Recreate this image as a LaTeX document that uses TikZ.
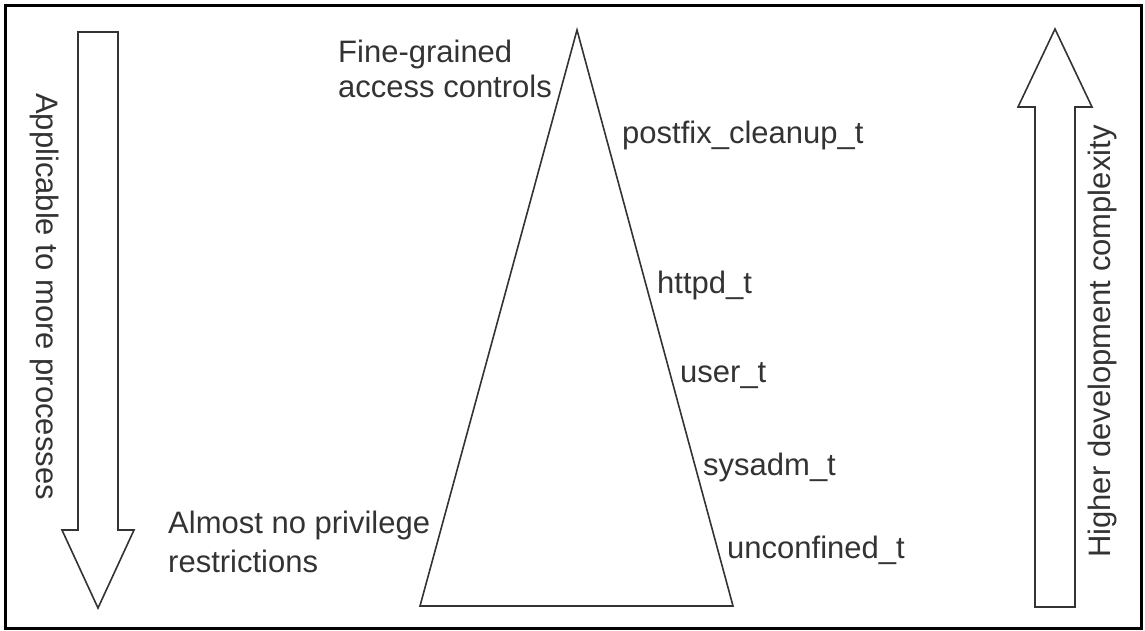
\documentclass[tikz,border=0pt]{standalone}
\usepackage{fontspec}
\setmainfont{Liberation Sans}
\definecolor{ink}{HTML}{333333}
\begin{document}
\begin{tikzpicture}[x=1pt,y=-1pt,
  lbl/.style={inner sep=0pt,text=ink,font=\fontsize{31}{35}\selectfont,anchor=base west},
  shp/.style={draw=ink,line width=1.6pt,line join=miter}]
\useasboundingbox (0,0) rectangle (1145,630);
\draw[black,line width=3pt] (5.5,5.5) rectangle (1141,628);
% left down arrow
\draw[shp] (78,32) -- (118,32) -- (118,530) -- (134,530) -- (98,608) -- (62,530) -- (78,530) -- cycle;
% right up arrow
\draw[shp] (1055,29) -- (1092,107) -- (1075,107) -- (1075,607) -- (1035,607) -- (1035,107) -- (1018,107) -- cycle;
% triangle
\draw[shp] (577,30) -- (733,606) -- (420,606) -- cycle;
% labels
\node[lbl] (fine) at (338,62) {Fine-grained};
\node[lbl] (acc) at (338,97) {access controls};
\node[lbl] (pf) at (622,143) {postfix\_cleanup\_t};
\node[lbl] (httpd) at (657,293) {httpd\_t};
\node[lbl] (user) at (680,382) {user\_t};
\node[lbl] (sys) at (703,475) {sysadm\_t};
\node[lbl] (unc) at (727,558) {unconfined\_t};
\node[lbl] (alm) at (168,533) {Almost no privilege};
\node[lbl] (res) at (168,572) {restrictions};
\node[lbl,rotate=-90] (app) at (36,93) {Applicable to more processes};
\node[lbl,rotate=90] (hdc) at (1110,558) {Higher development complexity};
\end{tikzpicture}
\end{document}
